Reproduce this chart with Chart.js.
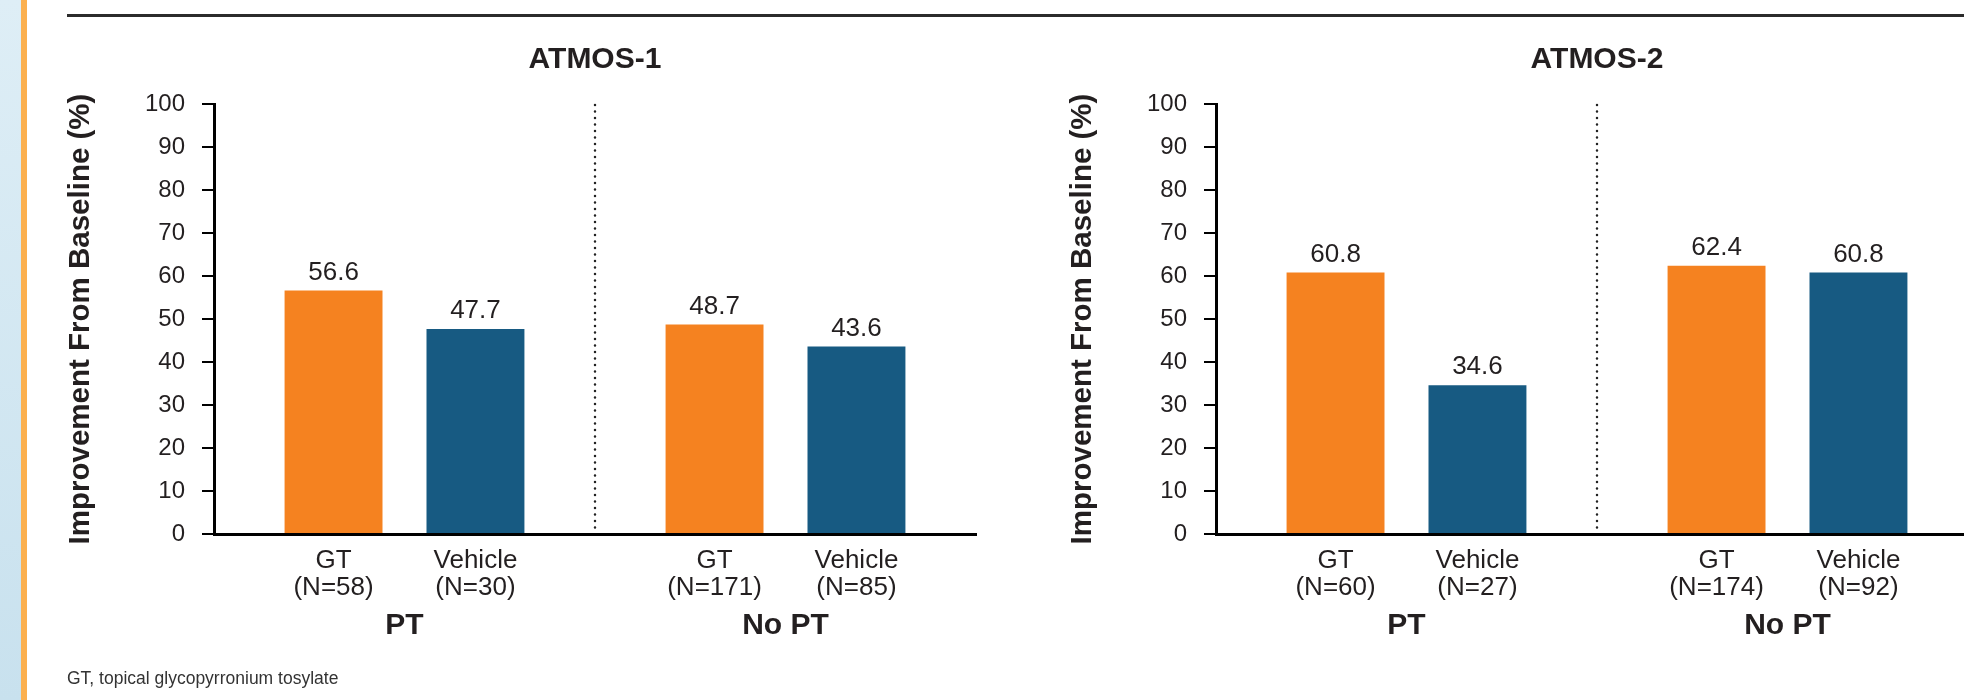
<!DOCTYPE html>
<html>
<head>
<meta charset="utf-8">
<script src="https://cdn.jsdelivr.net/npm/chart.js@4.4.1/dist/chart.umd.min.js"></script>
<style>
  body { margin: 0; width: 1964px; height: 700px; overflow: hidden; background: #fff; position: relative; font-family: "Liberation Sans", Arial, sans-serif; }
  #strip { position: absolute; left: 0; top: 0; width: 21px; height: 700px; background: linear-gradient(#deeef6, #c8e1ee); }
  #stripo { position: absolute; left: 21px; top: 0; width: 6px; height: 700px; background: #fbb04f; }
  #rule { position: absolute; left: 67px; top: 14px; width: 1897px; height: 3px; background: #2b2b2b; }
  .box { position: absolute; top: 0; width: 1000px; height: 700px; }
  #foot { position: absolute; left: 67px; top: 668px; font-size: 17.5px; line-height: 20px; color: #333; white-space: nowrap; }
</style>
</head>
<body>
<div id="strip"></div>
<div id="stripo"></div>
<div id="rule"></div>
<div class="box" style="left:0px"><canvas id="c1"></canvas></div>
<div class="box" style="left:1002px"><canvas id="c2"></canvas></div>
<div id="foot">GT, topical glycopyrronium tosylate</div>
<script>
const groups = ['PT', 'No PT'];
const yTicks = [0, 10, 20, 30, 40, 50, 60, 70, 80, 90, 100];

// ATMOS-1
const a1GT = [56.6, 48.7];
const a1Veh = [47.7, 43.6];
const a1GTn = [58, 171];
const a1VehN = [30, 85];

// ATMOS-2
const a2GT = [60.8, 62.4];
const a2Veh = [34.6, 60.8];
const a2GTn = [60, 174];
const a2VehN = [27, 92];

const TEXT = '#231f20';
const ORANGE = '#f58220';
const BLUE = '#175a82';

Chart.defaults.font.family = '"Liberation Sans", Arial, Helvetica, sans-serif';
Chart.defaults.color = TEXT;

// value labels, bar labels and the dotted divider
const barText = {
  id: 'barText',
  beforeDatasetsDraw(chart) {
    const ctx = chart.ctx, area = chart.chartArea, xs = chart.scales.x;
    const mid = (xs.getPixelForValue(0) + xs.getPixelForValue(1)) / 2;
    ctx.save();
    ctx.strokeStyle = '#222';
    ctx.lineWidth = 2.5;
    ctx.lineCap = 'round';
    ctx.setLineDash([0, 6.5]);
    ctx.beginPath();
    ctx.moveTo(mid, area.top + 1);
    ctx.lineTo(mid, area.bottom);
    ctx.stroke();
    ctx.restore();
  },
  afterDatasetsDraw(chart) {
    const ctx = chart.ctx, area = chart.chartArea;
    ctx.save();
    ctx.fillStyle = TEXT;
    ctx.textAlign = 'center';
    ctx.textBaseline = 'alphabetic';
    ctx.font = '26px "Liberation Sans", Arial, sans-serif';
    chart.data.datasets.forEach((ds, i) => {
      chart.getDatasetMeta(i).data.forEach((bar, j) => {
        ctx.fillText(ds.data[j].toFixed(1), bar.x, bar.y - 11);
        ctx.fillText(ds.label, bar.x, area.bottom + 34);
        ctx.fillText('(N=' + ds.n[j] + ')', bar.x, area.bottom + 61);
      });
    });
    ctx.restore();
  }
};

function makeChart(id, title, gt, veh, gtN, vehN) {
  return new Chart(document.getElementById(id), {
    type: 'bar',
    data: {
      labels: groups,
      datasets: [
        { label: 'GT', data: gt, n: gtN, backgroundColor: ORANGE },
        { label: 'Vehicle', data: veh, n: vehN, backgroundColor: BLUE }
      ]
    },
    options: {
      responsive: true,
      maintainAspectRatio: false,
      animation: false,
      categoryPercentage: 0.745,
      barPercentage: 0.69,
      layout: { padding: { top: 20, left: 0, right: 24, bottom: 46 } },
      plugins: {
        legend: { display: false },
        tooltip: { enabled: false },
        title: {
          display: true,
          text: title,
          fullSize: false,
          color: TEXT,
          font: { size: 30, weight: 'bold' },
          padding: { top: 22, bottom: 26 }
        }
      },
      scales: {
        x: {
          afterFit: (s) => { s.height = 120; },
          grid: { display: false },
          border: { display: true, color: '#000', width: 3 },
          ticks: { color: TEXT, padding: 66, font: { size: 30, weight: 'bold' } }
        },
        y: {
          min: 0,
          max: 100,
          afterFit: (s) => { s.width = 214; },
          afterBuildTicks: (s) => { s.ticks = yTicks.map(v => ({ value: v })); },
          grid: { drawOnChartArea: false, color: '#000', lineWidth: 2, tickLength: 12 },
          border: { display: true, color: '#000', width: 3 },
          ticks: { color: TEXT, padding: 17, font: { size: 24 } },
          title: {
            display: true,
            text: 'Improvement From Baseline (%)',
            color: TEXT,
            font: { size: 29.5, weight: 'bold' },
            padding: { top: 63, bottom: 0 }
          }
        }
      }
    },
    plugins: [barText]
  });
}

makeChart('c1', 'ATMOS-1', a1GT, a1Veh, a1GTn, a1VehN);
makeChart('c2', 'ATMOS-2', a2GT, a2Veh, a2GTn, a2VehN);
</script>
</body>
</html>
